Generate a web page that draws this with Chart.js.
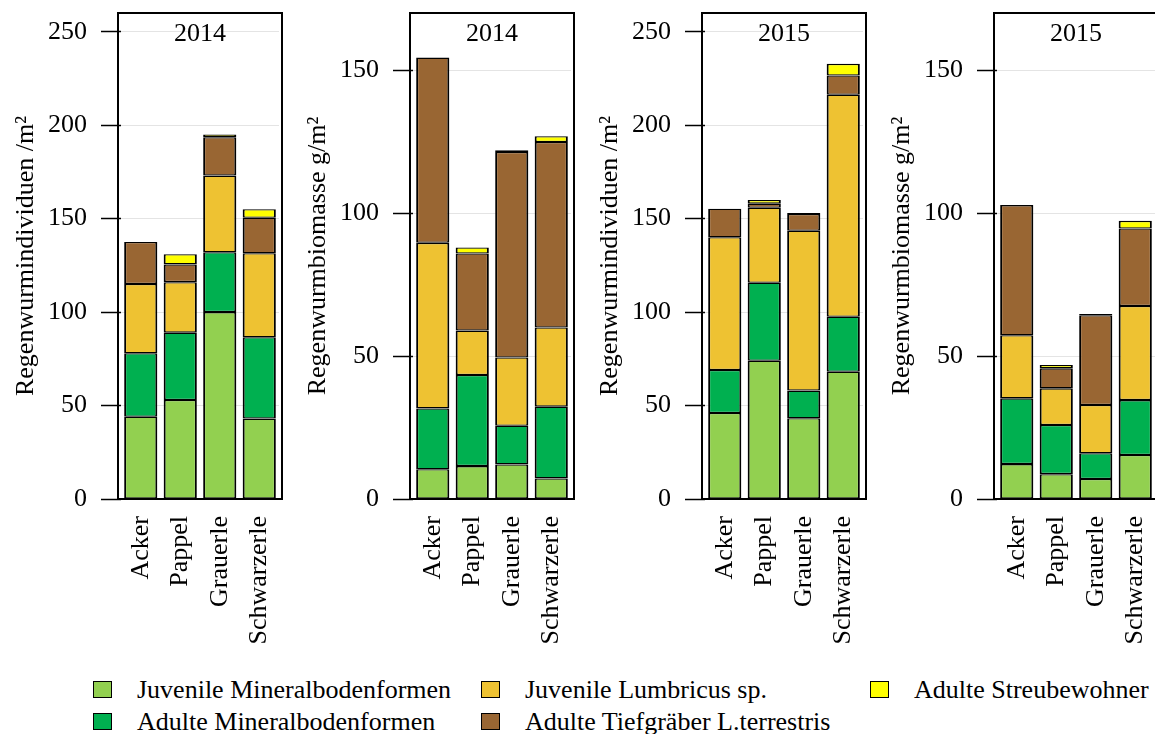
<!DOCTYPE html>
<html>
<head>
<meta charset="utf-8">
<script src="https://cdn.jsdelivr.net/npm/chart.js@4.4.1/dist/chart.umd.min.js"></script>
<style>
  body { margin: 0; background: #fff; overflow: hidden; }
  #page { position: relative; width: 1155px; height: 734px; overflow: hidden; font-family: 'Liberation Serif', 'Times New Roman', serif; }
  .panel { position: absolute; top: 0; width: 292px; height: 660px; }
  .key { position: absolute; font-size: 26px; line-height: 30px; color: #000; white-space: nowrap; }
  .key i { position: absolute; left: 0; top: 6px; width: 17px; height: 15px; border: 1.5px solid #000; }
  .key span { position: absolute; left: 44px; top: 0; }
</style>
</head>
<body>
<div id="page">
  <div class="panel" style="left:0px"><canvas id="p1" width="292" height="660"></canvas></div>
  <div class="panel" style="left:292px"><canvas id="p2" width="292" height="660"></canvas></div>
  <div class="panel" style="left:584px"><canvas id="p3" width="292" height="660"></canvas></div>
  <div class="panel" style="left:876px"><canvas id="p4" width="292" height="660"></canvas></div>
  <div id="legend"></div>
</div>
<script>
const sites = ['Acker', 'Pappel', 'Grauerle', 'Schwarzerle'];
const groups = ['Juvenile Mineralbodenformen', 'Adulte Mineralbodenformen', 'Juvenile Lumbricus sp.',
                'Adulte Tiefgräber L.terrestris', 'Adulte Streubewohner'];
const groupColors = ['#92d050', '#00b050', '#eec232', '#996633', '#ffff00'];

// Individuen /m², 2014
const ind14JuvMin = [44, 53, 100, 43];
const ind14AdMin = [34, 36, 32, 43.5];
const ind14JuvLum = [37, 27, 41, 45];
const ind14AdTief = [22.5, 9.5, 20.5, 19];
const ind14AdStreu = [0, 5.5, 1.5, 4.5];

// Biomasse g/m², 2014
const bio14JuvMin = [10.4, 11.5, 12.1, 7.2];
const bio14AdMin = [21.3, 31.9, 13.5, 25.1];
const bio14JuvLum = [57.9, 15.5, 23.9, 27.7];
const bio14AdTief = [64.8, 27, 71.9, 64.9];
const bio14AdStreu = [0, 2.1, 0.6, 2];

// Individuen /m², 2015
const ind15JuvMin = [46, 74, 43.2, 68.1];
const ind15AdMin = [23, 41.7, 14.8, 29.4];
const ind15JuvLum = [71, 40.1, 85.5, 118.8];
const ind15AdTief = [15.3, 2.2, 9, 10.3];
const ind15AdStreu = [0, 2, 0.5, 6.2];

// Biomasse g/m², 2015
const bio15JuvMin = [12.2, 8.7, 7, 15.4];
const bio15AdMin = [23, 17.2, 9, 19.2];
const bio15JuvLum = [22.1, 12.8, 16.9, 32.9];
const bio15AdTief = [45.5, 7, 31.4, 27.1];
const bio15AdStreu = [0, 1.2, 0.4, 2.7];

const yTicks = [0, 50, 100, 150, 200, 250];

const FONT = "'Liberation Serif', 'Times New Roman', serif";
Chart.defaults.font.family = FONT;
Chart.defaults.font.size = 26;
Chart.defaults.color = '#000';

// box around the plot region plus the year label inside it
const framePlugin = {
  id: 'frame',
  afterDraw(chart, args, opts) {
    const a = chart.chartArea;
    const ctx = chart.ctx;
    ctx.save();
    ctx.strokeStyle = '#000';
    ctx.lineWidth = 2;
    ctx.strokeRect(a.left - 3, a.top, a.right - a.left + 6, a.bottom - a.top);
    ctx.font = '26px ' + FONT;
    ctx.fillStyle = '#000';
    ctx.textAlign = 'center';
    ctx.textBaseline = 'middle';
    ctx.fillText(opts.year, (a.left + a.right) / 2, a.top + 21);
    ctx.restore();
  }
};

function drawPanel(id, year, yTitle, yMax, series) {
  const ctx = document.getElementById(id).getContext('2d');
  return new Chart(ctx, {
    type: 'bar',
    data: {
      labels: sites,
      datasets: series.map((values, i) => ({
        label: groups[i],
        data: values,
        backgroundColor: groupColors[i],
        borderColor: '#000',
        // segments share edges, so top/bottom are half width
        borderWidth: { top: 1.3, bottom: 1.3, left: 2, right: 2 },
        borderSkipped: false,
        inflateAmount: 0,
        barPercentage: 0.84,
        categoryPercentage: 1
      }))
    },
    plugins: [framePlugin],
    options: {
      responsive: false,
      devicePixelRatio: 1,
      animation: false,
      layout: { padding: { top: 13, right: 13, left: 0, bottom: 0 } },
      plugins: {
        legend: { display: false },
        tooltip: { enabled: false },
        frame: { year: year }
      },
      scales: {
        x: {
          stacked: true,
          offset: true,
          grid: { display: false, drawTicks: false },
          border: { display: false },
          ticks: { minRotation: 90, maxRotation: 90, padding: 17, font: { size: 26 } },
          afterFit(scale) {
            scale.height = 161;
            scale.paddingLeft = 0;
            scale.paddingRight = 0;
          }
        },
        y: {
          stacked: true,
          min: 0,
          max: yMax,
          grid: { color: '#e4e4e4', lineWidth: 1, tickColor: '#000', tickLength: 20, tickWidth: 1.5 },
          border: { display: false },
          ticks: { stepSize: 50, padding: 14, font: { size: 26 } },
          afterBuildTicks(scale) {
            scale.ticks = yTicks.filter(v => v <= yMax).map(v => ({ value: v }));
          },
          title: { display: true, text: yTitle, font: { size: 26 }, padding: { top: 11, bottom: 0 } },
          afterFit(scale) {
            scale.width = 121;
            scale.paddingTop = 0;
            scale.paddingBottom = 0;
          }
        }
      }
    }
  });
}

drawPanel('p1', '2014', 'Regenwurmindividuen /m²', 260,
  [ind14JuvMin, ind14AdMin, ind14JuvLum, ind14AdTief, ind14AdStreu]);
drawPanel('p2', '2014', 'Regenwurmbiomasse g/m²', 170,
  [bio14JuvMin, bio14AdMin, bio14JuvLum, bio14AdTief, bio14AdStreu]);
drawPanel('p3', '2015', 'Regenwurmindividuen /m²', 260,
  [ind15JuvMin, ind15AdMin, ind15JuvLum, ind15AdTief, ind15AdStreu]);
drawPanel('p4', '2015', 'Regenwurmbiomasse g/m²', 170,
  [bio15JuvMin, bio15AdMin, bio15JuvLum, bio15AdTief, bio15AdStreu]);

// shared legend below the panels, filled column by column
const keySpots = [[93, 675], [93, 707], [481, 675], [481, 707], [870, 675]];
const legend = document.getElementById('legend');
groups.forEach((g, i) => {
  const item = document.createElement('div');
  item.className = 'key';
  item.style.left = keySpots[i][0] + 'px';
  item.style.top = keySpots[i][1] + 'px';
  const box = document.createElement('i');
  box.style.background = groupColors[i];
  const txt = document.createElement('span');
  txt.textContent = g;
  item.appendChild(box);
  item.appendChild(txt);
  legend.appendChild(item);
});
</script>
</body>
</html>
